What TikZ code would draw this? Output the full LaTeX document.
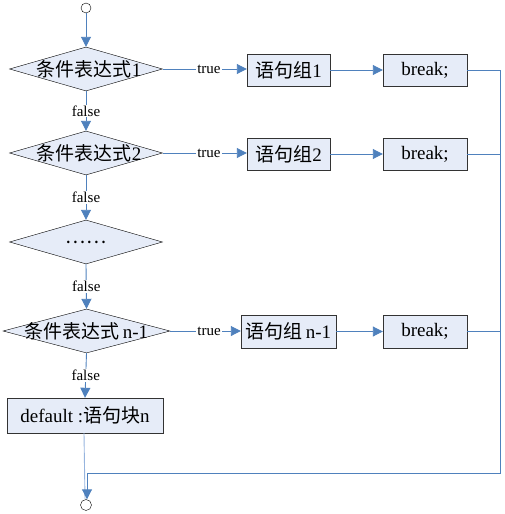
\documentclass[tikz,border=0pt]{standalone}
\usepackage{fontspec}
\setmainfont{Liberation Serif}
\newfontfamily\cjk{Noto Sans CJK SC}
\usetikzlibrary{arrows.meta,shapes.geometric,positioning}
\definecolor{flowblue}{RGB}{79,129,189}
\definecolor{paleblue}{RGB}{150,180,222}
\definecolor{boxfill}{RGB}{230,236,248}

\begin{document}
\begin{tikzpicture}[x=1pt, y=-1pt, >={Triangle[length=10pt,width=10pt]},
    flow/.style={draw=flowblue, line width=0.9pt},
    cond/.style={diamond, draw, fill=boxfill, inner sep=0pt, minimum width=153pt, minimum height=44pt, font=\fontsize{19}{19}\selectfont},
    stmt/.style={draw=black!80, fill=boxfill, inner sep=0pt, minimum height=32pt, font=\fontsize{19}{19}\selectfont},
    lab/.style={fill=white, inner sep=1pt, font=\fontsize{15}{15}\selectfont},
    term/.style={circle, draw, fill=white, minimum size=10pt, inner sep=0pt}]
  \useasboundingbox (0,0) rectangle (504,514);
  % start and end
  \node[term] (start) at (86,8) {};
  \node[term, minimum size=11pt] (stop) at (86,505) {};
  \coordinate (corner) at (500,473);
  % conditions
  \node[cond] (c1) at (86,69) {\makebox[0pt]{\hspace*{6pt}{\cjk 条件表达式}1}};
  \node[cond] (c2) at (86,153) {\makebox[0pt]{\hspace*{6pt}{\cjk 条件表达式}2}};
  \node[cond] (c3) at (86,242) {\makebox[0pt]{\cjk ……}};
  \node[cond, minimum width=167pt] (c4) at (86.5,331) {\makebox[0pt]{{\cjk 条件表达式}\,n-1}};
  \node[stmt, minimum width=156pt, minimum height=35pt] (dflt) at (85,415.5) {default :{\cjk 语句块}n};
  % statement groups
  \node[stmt, minimum width=83pt] (g1) at (288.5,70) {{\cjk 语句组}1};
  \node[stmt, minimum width=84pt] (b1) at (425,70) {break;};
  \node[stmt, minimum width=83pt] (g2) at (288.5,154) {{\cjk 语句组}2};
  \node[stmt, minimum width=84pt] (b2) at (425,154) {break;};
  \node[stmt, minimum width=95pt, minimum height=33pt] (g3) at (288.5,331.5) {{\cjk 语句组}\,n-1};
  \node[stmt, minimum width=84pt, minimum height=33pt] (b3) at (425,331.5) {break;};
  % main line
  \draw[flow,->] (start) -- (c1.north);
  \draw[flow,->] (c1.south) -- node[lab]{false} (c2.north);
  \draw[flow,->] (c2.south) -- node[lab]{false} (c3.north);
  \draw[flow,->] (c3.south) -- node[lab]{false} (c4.north);
  \draw[flow,->] (c4.south) -- node[lab]{false} (dflt.north);
  % true branches
  \draw[flow,->] (c1.east) -- node[lab, pos=0.55]{true} (g1.west |- c1.east);
  \draw[flow,->] (c2.east) -- node[lab, pos=0.55]{true} (g2.west |- c2.east);
  \draw[flow,->] (c4.east) -- node[lab, pos=0.55]{true} (g3.west |- c4.east);
  \draw[flow,->] (g1) -- (b1);
  \draw[flow,->] (g2) -- (b2);
  \draw[flow,->] (g3) -- (b3);
  % exits
  \draw[paleblue, line width=0.9pt] ([xshift=-1pt]dflt.south) -- ([xshift=-1pt]stop.north);
  \draw[flow,->] (b1.east) -| (corner) -| ([xshift=1pt]stop.north);
  \draw[flow] (b2.east) -- (b2.east -| corner);
  \draw[flow] (b3.east) -- (b3.east -| corner);
\end{tikzpicture}
\end{document}
